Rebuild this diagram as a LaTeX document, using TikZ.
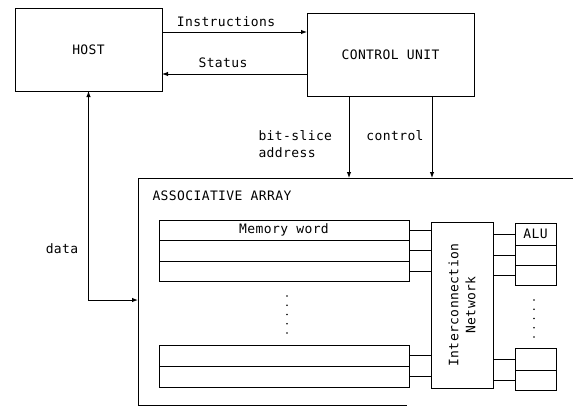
\documentclass[tikz,border=0pt]{standalone}
\usepackage{fontspec}
\newfontfamily\lbl[LetterSpace=3]{DejaVu Sans Mono}
\usetikzlibrary{arrows.meta}
\begin{document}
\begin{tikzpicture}[x=1pt,y=-1pt, line width=1pt,
  box/.style={draw, inner sep=0pt, outer sep=0pt},
  txt/.style={font=\lbl\fontsize{13}{17}\selectfont, inner sep=0pt},
  arr/.style={-{Latex[length=6pt,width=4.5pt]}},
  dot/.style={fill, circle, inner sep=0pt, minimum size=1.8pt}]
\useasboundingbox (0,0) rectangle (573,408);
% main boxes
\node[box, txt, minimum width=147pt, minimum height=83pt] (host) at (88.5,49.5) {HOST};
\node[box, txt, minimum width=167pt, minimum height=83pt] (cu) at (390.5,54.5) {CONTROL UNIT};
% host <-> control unit
\draw[arr] (host.east |- 0,32) -- (cu.west |- 0,32);
\node[txt] (lins) at (226,22) {Instructions};
\draw[arr] (cu.west |- 0,74) -- (host.east |- 0,74);
\node[txt] (lstat) at (223,63) {Status};
% associative array outline
\coordinate (aTL) at (138,178);
\coordinate (aTR) at (573,178);
\coordinate (aBL) at (138,405);
\coordinate (aBR) at (407,405);
\coordinate (adata) at (138,300);
\coordinate (abit) at (349,178);
\coordinate (actl) at (432,178);
\draw (aTR) -- (aTL) -- (aBL) -- (aBR);
\node[txt, anchor=west] (larr) at (152,196) {ASSOCIATIVE ARRAY};
% control unit -> array
\draw[arr] (cu.south -| abit) -- (abit);
\draw[arr] (cu.south -| actl) -- (actl);
\node[txt, anchor=west] (lbit) at (258,136) {bit-slice};
\node[txt, anchor=west] (ladr) at (258,153) {address};
\node[txt] (lctl) at (395,136) {control};
% data
\draw[{Latex[length=6pt,width=4.5pt]}-{Latex[length=6pt,width=4.5pt]}] (host.south) |- (adata);
\node[txt] (ldata) at (62,249) {data};
% memory words
\node[box, txt, minimum width=250pt, minimum height=20.5pt] (m1) at (284,230.25) {Memory word};
\node[box, minimum width=250pt, minimum height=20.5pt] (m2) at (284,250.75) {};
\node[box, minimum width=250pt, minimum height=20.5pt] (m3) at (284,271.25) {};
\node[box, minimum width=250pt, minimum height=21pt] (m4) at (284,355.5) {};
\node[box, minimum width=250pt, minimum height=21pt] (m5) at (284,376.5) {};
\foreach \y in {296,305.25,314.5,323.75,333} \node[dot] at (287,\y) {};
% network
\node[box, minimum width=62pt, minimum height=166pt] (net) at (462,305) {};
\node[txt, rotate=90, align=center] (lnet) at (net.center) {Interconnection\\Network};
% ALUs
\node[box, txt, minimum width=41pt, minimum height=22pt] (a1) at (535.5,234) {ALU};
\node[box, minimum width=41pt, minimum height=20pt] (a2) at (535.5,255) {};
\node[box, minimum width=41pt, minimum height=20pt] (a3) at (535.5,275) {};
\node[box, minimum width=41pt, minimum height=22pt] (a4) at (535.5,359) {};
\node[box, minimum width=41pt, minimum height=20pt] (a5) at (535.5,380) {};
\foreach \y in {300,309.25,318.5,327.75,337} \node[dot] at (534,\y) {};
% connectors
\foreach \m in {m1,m2,m3,m4,m5} \draw (\m.east) -- (\m.east -| net.west);
\foreach \a in {a1,a2,a3,a4,a5} \draw (net.east |- \a.west) -- (\a.west);
\end{tikzpicture}
\end{document}
